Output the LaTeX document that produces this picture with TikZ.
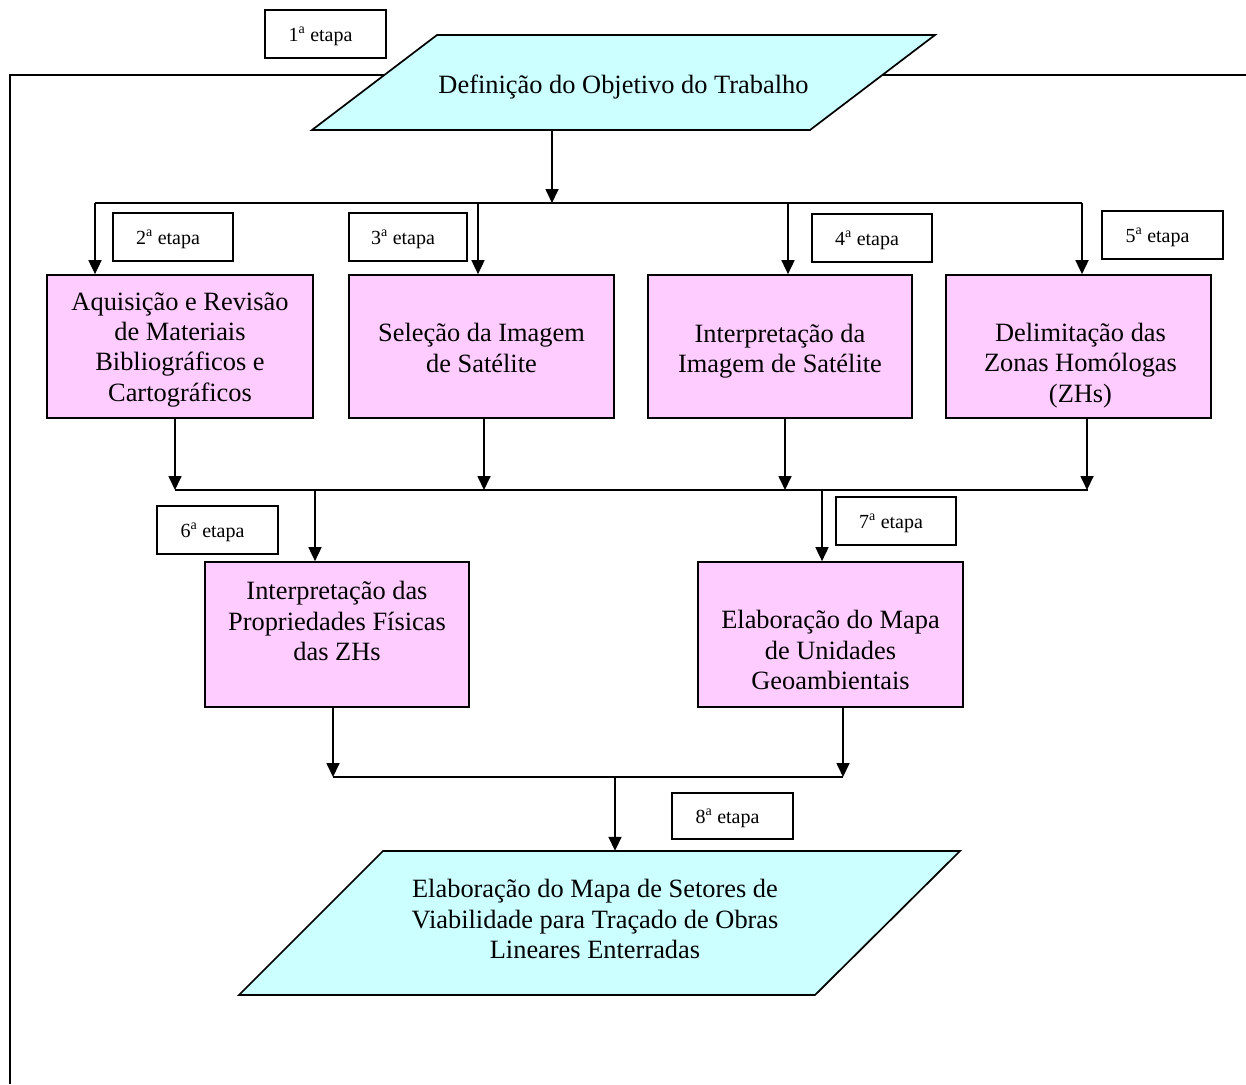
\documentclass[tikz,border=0pt]{standalone}
\usepackage{fontspec}
\setmainfont{Liberation Serif}
\usetikzlibrary{arrows.meta}
\definecolor{cyanfill}{HTML}{CCFFFF}
\definecolor{pinkfill}{HTML}{FFCCFF}
\newcommand{\etp}[1]{\hspace*{-10pt}#1\textsuperscript{a} etapa}
\begin{document}
\begin{tikzpicture}[x=1pt,y=-1pt,
  lw/.style={line width=1.7pt},
  arr/.style={lw,-{Triangle[length=14pt,width=13pt]}},
  pbox/.style={draw,lw,fill=pinkfill,minimum width=265pt,minimum height=143pt,inner sep=0pt},
  etapabox/.style={draw,line width=1.5pt,fill=white,minimum width=120pt,minimum height=48pt,inner sep=0pt,text height=14.6pt,text depth=0pt,font=\fontsize{20}{24}\selectfont},
  txt/.style={align=center,font=\fontsize{26.4}{30.3}\selectfont,inner sep=0pt},
  para/.style={draw,lw,fill=cyanfill,line join=miter}
]
\useasboundingbox (0,0) rectangle (1246,1084);
% frame
\coordinate (fTL) at (10,75);
\coordinate (fBL) at (10,1084);
\coordinate (fTR) at (1246,75);
\draw[lw] (fBL) -- (fTL) -- (fTR);
% top parallelogram
\draw[para] (312,130) -- (437,35) -- (935,35) -- (810,130) -- cycle;
\node[txt,minimum height=95pt,minimum width=498pt,text height=21.6pt,text depth=0pt] (obj) at (623.5,82.5) {Definição do Objetivo do Trabalho};
% bottom parallelogram
\draw[para] (239,995) -- (383,851) -- (960,851) -- (815,995) -- cycle;
\node[txt,minimum height=144pt,minimum width=576pt] (fin) at (599,923) {};
\node[txt] (fint) at ([xshift=-4pt,yshift=4pt]fin.center) {Elaboração do Mapa de Setores de\\Viabilidade para Traçado de Obras\\Lineares Enterradas};
% top row boxes
\node[pbox,minimum width=266pt] (A) at (180,346.5) {};
\node[pbox] (B) at (481.5,346.5) {};
\node[pbox,minimum width=264pt] (C) at (780,346.5) {};
\node[pbox] (D) at (1078.5,346.5) {};
\node[txt] (At) at ([yshift=-3pt]A.center) {Aquisição e Revisão\\de Materiais\\Bibliográficos e\\Cartográficos};
\node[txt] (Bt) at ([yshift=-1.5pt]B.center) {Seleção da Imagem\\de Satélite};
\node[txt] (Ct) at ([yshift=-4.5pt]C.center) {Interpretação da\\Imagem de Satélite};
\node[txt] (Dt) at ([xshift=2pt,yshift=-19pt]D.center) {Delimitação das\\Zonas Homólogas\\(ZHs)};
% middle boxes
\node[pbox,minimum width=264pt,minimum height=145pt] (F) at (337,634.5) {};
\node[pbox,minimum width=265pt,minimum height=145pt] (G) at (830.5,634.5) {};
\node[txt] (Ft) at ([yshift=13.5pt]F.center) {Interpretação das\\Propriedades Físicas\\das ZHs};
\node[txt] (Gt) at ([yshift=-15.5pt]G.center) {Elaboração do Mapa\\de Unidades\\Geoambientais};
% etapa labels
\node[etapabox,minimum width=121pt] (e1) at (325.5,34) {\etp{1}};
\node[etapabox] (e2) at (173,237) {\etp{2}};
\node[etapabox,minimum width=118pt] (e3) at (408,237) {\etp{3}};
\node[etapabox] (e4) at (872,238) {\etp{4}};
\node[etapabox,minimum width=121pt] (e5) at (1162.5,235) {\etp{5}};
\node[etapabox,minimum width=121pt] (e6) at (217.5,530) {\etp{6}};
\node[etapabox] (e7) at (896,521) {\etp{7}};
\node[etapabox,minimum width=121pt,minimum height=46pt] (e8) at (732.5,816) {\etp{8}};
% bus 1
\coordinate (j0) at (552,203);
\coordinate (b1L) at (95,203);
\coordinate (b1B) at (478,203);
\coordinate (b1C) at (788,203);
\coordinate (b1R) at (1082,203);
\draw[arr] ([xshift=-71.5pt]obj.south) -- (j0);
\draw[lw] (b1L) -- (b1R);
\draw[arr] (b1L) -- (b1L |- A.north);
\draw[arr] (b1B) -- (b1B |- B.north);
\draw[arr] (b1C) -- (b1C |- C.north);
\draw[arr] (b1R) -- (b1R |- D.north);
% bus 2
\coordinate (b2L) at (175,490);
\coordinate (b2B) at (484,490);
\coordinate (b2C) at (785,490);
\coordinate (b2R) at (1087,490);
\coordinate (b2E) at (1088,490);
\coordinate (j2F) at (315,490);
\coordinate (j2G) at (822,490);
\draw[arr] (A.south -| b2L) -- (b2L);
\draw[arr] (B.south -| b2B) -- (b2B);
\draw[arr] (C.south -| b2C) -- (b2C);
\draw[arr] (D.south -| b2R) -- (b2R);
\draw[lw] (b2L) -- (b2E);
\draw[arr] (j2F) -- (j2F |- F.north);
\draw[arr] (j2G) -- (j2G |- G.north);
% bus 3
\coordinate (b3L) at (333,777);
\coordinate (b3R) at (843,777);
\coordinate (j3) at (615,777);
\draw[arr] (F.south -| b3L) -- (b3L);
\draw[arr] (G.south -| b3R) -- (b3R);
\draw[lw] (b3L) -- (b3R);
\draw[arr] (j3) -- (j3 |- fin.north);
\end{tikzpicture}
\end{document}
